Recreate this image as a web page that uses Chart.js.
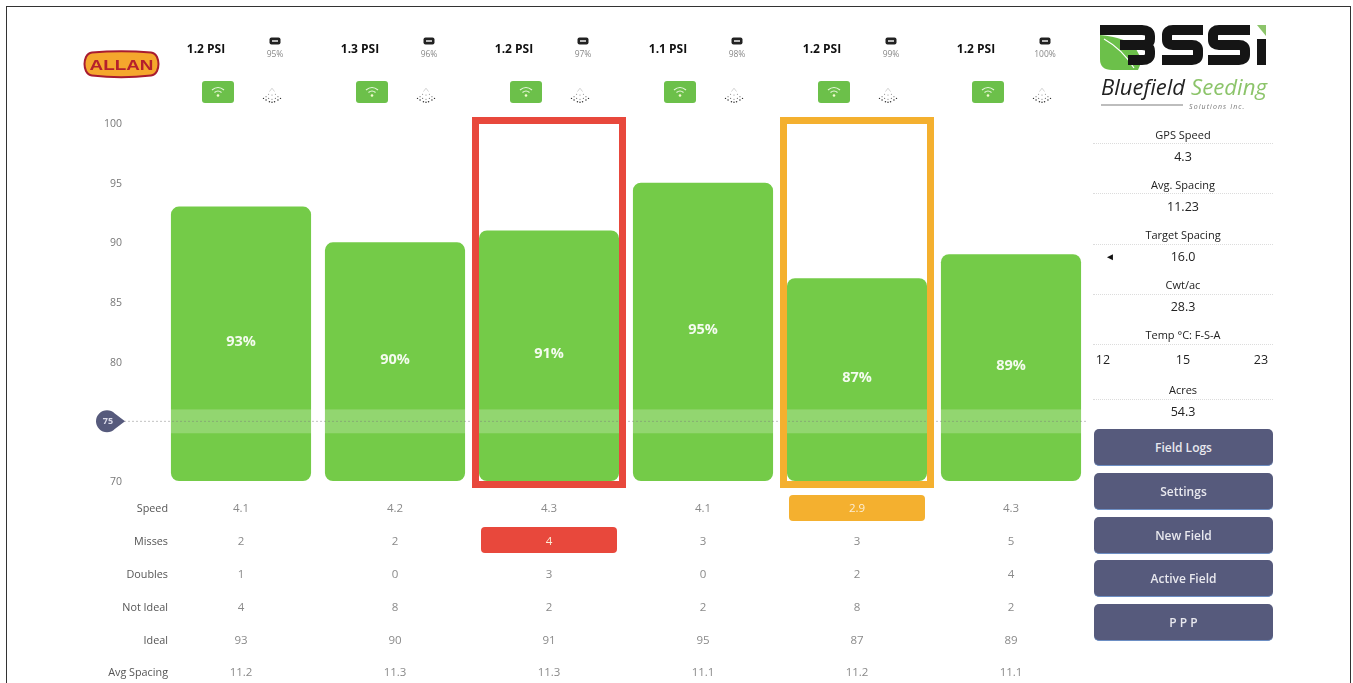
<!DOCTYPE html>
<html>
<head>
<meta charset="utf-8">
<script src="https://cdn.jsdelivr.net/npm/chart.js@4"></script>
<style>
  html, body { margin: 0; padding: 0; background: #fff; overflow: hidden; }
  body { width: 1353px; height: 683px; position: relative; font-family: "Open Sans", sans-serif; }
  #frame { position: absolute; left: 6px; top: 6px; width: 1345px; height: 677px; border: solid #333; border-width: 1px 1px 0 1px; box-sizing: border-box; pointer-events: none; }
  #chart { position: absolute; left: 0; top: 0; }
  .t { position: absolute; white-space: nowrap; transform: translate(-50%, -50%); }
  .rowlabel { position: absolute; white-space: nowrap; transform: translate(-100%, -50%); font-size: 10.8px; color: #555; }
  .cell { font-size: 11.5px; color: #8a8a8a; }
  .pill { position: absolute; height: 26px; width: 136px; border-radius: 4px; transform: translate(-50%, -50%); }
  .psi { font-size: 12px; font-weight: 700; color: #111; }
  .bat { font-size: 8.5px; color: #888; }
  .side { font-size: 11px; color: #222; }
  .sideval { font-size: 12.5px; color: #222; }
  .rule { position: absolute; left: 1093px; width: 180px; border-top: 1px dotted #dcdcdc; }
  .btn { position: absolute; left: 1094px; width: 179px; height: 37px; background: #565a7c; border-radius: 5px; color: #e8e8ee; font-size: 12px; font-weight: 600; line-height: 37px; text-align: center; border-bottom: 1px solid #6d8fc4; box-sizing: border-box; }
  .icon { position: absolute; transform: translate(-50%, -50%); }
  #allan { position: absolute; left: 82px; top: 50px; width: 79px; height: 29px; }
  #bssi { position: absolute; left: 1090px; top: 15px; width: 190px; height: 105px; }
</style>
</head>
<body>
<canvas id="chart" width="1090" height="683"></canvas>
<div id="frame"></div>

<svg id="allan" viewBox="0 0 79 29">
  <path d="M10 2.5 Q39 0 69 2.5 Q73 3 75 7 Q78 14 75 21 Q73 25 69 25.5 Q39 29 10 25.5 Q6 25 4 21 Q1 14 4 7 Q6 3 10 2.5 Z" fill="#f5a72d" stroke="#a81c30" stroke-width="2"/>
  <text x="39.5" y="20" text-anchor="middle" font-family="Liberation Sans" font-weight="700" font-size="15" fill="#b5202c" textLength="64" lengthAdjust="spacingAndGlyphs">ALLAN</text>
</svg>

<svg id="bssi" viewBox="0 0 190 105">
  <path d="M10 20 Q36 22 46 34 Q54 46 48 55 H22 Q10 55 10 44 Z" fill="#6cc04a"/>
  <path d="M14 24 Q32 34 44 53" fill="none" stroke="#fff" stroke-width="1.2"/>
  <g fill="none" stroke="#151515" stroke-width="10">
    <path d="M10 15 H52 Q60 15 60 21 V24 Q60 30 52 30 H30 M52 30 Q60 30 60 36 V39 Q60 45 52 45 H38"/>
    <path d="M113 15 H83 Q77 15 77 20 V25 Q77 30 83 30 H102 Q108 30 108 35 V40 Q108 45 102 45 H72"/>
    <path d="M160 15 H129 Q123 15 123 20 V25 Q123 30 129 30 H149 Q155 30 155 35 V40 Q155 45 149 45 H118"/>
  </g>
  <rect x="167" y="24" width="9" height="26" fill="#151515"/>
  <polygon points="167,10 176,10 176,21" fill="#8cc46a"/>
  <text x="11" y="80" font-family="Open Sans" font-style="italic" font-size="22" fill="#222" textLength="84" lengthAdjust="spacingAndGlyphs">Bluefield</text>
  <text x="101" y="80" font-family="Open Sans" font-style="italic" font-size="22" fill="#8cc46a" textLength="76" lengthAdjust="spacingAndGlyphs">Seeding</text>
  <line x1="11" y1="90" x2="93" y2="90" stroke="#444" stroke-width="0.7"/>
  <text x="99" y="94" font-family="Open Sans" font-style="italic" font-size="7" letter-spacing="1.1" fill="#777">Solutions Inc.</text>
</svg>

<script>
const categories = ["1", "2", "3", "4", "5", "6"];
const ideal = [93, 90, 91, 95, 87, 89];
const psi = ["1.2 PSI", "1.3 PSI", "1.2 PSI", "1.1 PSI", "1.2 PSI", "1.2 PSI"];
const battery = ["95%", "96%", "97%", "98%", "99%", "100%"];
const yTicks = [70, 80, 85, 90, 95, 100];
const targetLine = 75;
const targetBand = [74, 76];
const alertColumns = { 2: "#e8483c", 4: "#f4b02f" };

const rowNames = ["Speed", "Misses", "Doubles", "Not Ideal", "Ideal", "Avg Spacing"];
const speed = ["4.1", "4.2", "4.3", "4.1", "2.9", "4.3"];
const misses = ["2", "2", "4", "3", "3", "5"];
const doubles = ["1", "0", "3", "0", "2", "4"];
const notIdeal = ["4", "8", "2", "2", "8", "2"];
const idealRow = ["93", "90", "91", "95", "87", "89"];
const avgSpacing = ["11.2", "11.3", "11.3", "11.1", "11.2", "11.1"];
const rows = [speed, misses, doubles, notIdeal, idealRow, avgSpacing];

const sideLabels = ["GPS Speed", "Avg. Spacing", "Target Spacing", "Cwt/ac", "Temp °C: F-S-A", "Acres"];
const sideValues = ["4.3", "11.23", "16.0", "28.3", "15", "54.3"];
const tempEnds = ["12", "23"];
const buttons = ["Field Logs", "Settings", "New Field", "Active Field", "P P P"];

function add(cls, text, x, y, css) {
  const el = document.createElement("div");
  el.className = cls;
  el.textContent = text;
  el.style.left = x + "px";
  el.style.top = y + "px";
  if (css) el.style.cssText += css;
  document.body.appendChild(el);
  return el;
}

function addIcon(svg, x, y) {
  const el = add("icon", "", x, y);
  el.innerHTML = svg;
  el.style.lineHeight = "0";
}

const wifiSvg = '<svg width="32" height="22"><rect width="32" height="22" rx="3" fill="#6cc04a"/><g fill="none" stroke="#e6f5da" stroke-width="1.2"><path d="M10 9 Q16 4 22 9"/><path d="M12.5 11.5 Q16 8.5 19.5 11.5"/></g><circle cx="16" cy="14.5" r="1.3" fill="#f4fbd0"/></svg>';
const batterySvg = '<svg width="12" height="8"><rect x="0.5" y="0.5" width="11" height="7" rx="2" fill="#222"/><rect x="3" y="3" width="6" height="2" fill="#bbb"/></svg>';
const spraySvg = '<svg width="21" height="17" viewBox="0 0 24 20"><g fill="#333"><circle cx="2" cy="14" r=".8"/><circle cx="5" cy="16" r=".9"/><circle cx="9" cy="18" r=".9"/><circle cx="12" cy="18.5" r=".9"/><circle cx="15" cy="18" r=".9"/><circle cx="19" cy="16" r=".9"/><circle cx="22" cy="14" r=".8"/></g><g fill="#777"><circle cx="5" cy="12" r=".7"/><circle cx="8" cy="14" r=".7"/><circle cx="12" cy="15" r=".7"/><circle cx="16" cy="14" r=".7"/><circle cx="19" cy="12" r=".7"/><circle cx="8" cy="9" r=".6"/><circle cx="12" cy="10" r=".6"/><circle cx="16" cy="9" r=".6"/></g><path d="M9 6 L12 2 L15 6" fill="none" stroke="#ccc"/></svg>';

// band + dashed 75 line, alert outlines, % labels
const overlayPlugin = {
  id: "overlay",
  afterDatasetsDraw(chart) {
    const { ctx, scales: { x, y }, chartArea } = chart;
    ctx.save();
    ctx.fillStyle = "rgba(255,255,255,0.22)";
    ctx.fillRect(chartArea.left, y.getPixelForValue(targetBand[1]), chartArea.width, y.getPixelForValue(targetBand[0]) - y.getPixelForValue(targetBand[1]));

    ctx.strokeStyle = "rgba(120,120,120,0.45)";
    ctx.setLineDash([2, 2]);
    ctx.beginPath();
    ctx.moveTo(124, y.getPixelForValue(targetLine));
    ctx.lineTo(chartArea.right, y.getPixelForValue(targetLine));
    ctx.stroke();
    ctx.setLineDash([]);

    // highlighted columns
    for (const i in alertColumns) {
      const cx = x.getPixelForValue(+i);
      ctx.strokeStyle = alertColumns[i];
      ctx.lineWidth = 7;
      ctx.strokeRect(cx - 73.5, y.getPixelForValue(100) - 2.5, 147, y.getPixelForValue(70) - y.getPixelForValue(100) + 6);
    }

    ctx.fillStyle = "#f4fbef";
    ctx.font = "700 14.5px 'Open Sans'";
    ctx.textAlign = "center";
    ctx.textBaseline = "middle";
    ideal.forEach((v, i) => {
      ctx.fillText(v + "%", x.getPixelForValue(i), (y.getPixelForValue(v) + y.getPixelForValue(70)) / 2 - 2);
    });

    // 75 marker
    const my = y.getPixelForValue(targetLine);
    ctx.fillStyle = "#565a7c";
    ctx.beginPath();
    ctx.arc(107, my, 11, Math.PI * 0.25, Math.PI * 1.75);
    ctx.lineTo(125, my);
    ctx.closePath();
    ctx.fill();
    ctx.fillStyle = "#dcdcea";
    ctx.font = "700 9px 'Open Sans'";
    ctx.fillText(String(targetLine), 108, my);
    ctx.restore();
  }
};

const chart = new Chart(document.getElementById("chart"), {
  type: "bar",
  data: {
    labels: categories,
    datasets: [{
      data: ideal,
      base: 70,
      backgroundColor: "#74cb48",
      borderRadius: 8,
      borderSkipped: false,
      categoryPercentage: 1,
      barPercentage: 0.91,
    }],
  },
  options: {
    responsive: false,
    animation: false,
    layout: { padding: { left: 0, right: 2, top: 123, bottom: 202 } },
    plugins: { legend: { display: false }, tooltip: { enabled: false } },
    scales: {
      x: { display: false },
      y: {
        min: 70,
        max: 100,
        afterBuildTicks(axis) {
          axis.ticks = yTicks.map((value) => ({ value }));
        },
        afterFit(axis) { axis.width = 164; },
        grid: { display: false },
        border: { display: false },
        ticks: { color: "#777", font: { family: "Open Sans", size: 10.5 }, padding: 34, z: 1, textStrokeWidth: 0, labelOffset: 1 },
      },
    },
  },
  plugins: [overlayPlugin],
});

// everything around the plot lines up with the category scale
const xs = categories.map((c, i) => chart.scales.x.getPixelForValue(i));

xs.forEach((cx, i) => {
  add("t psi", psi[i], cx - 35, 47.5);
  addIcon(batterySvg, cx + 34, 41);
  add("t bat", battery[i], cx + 34, 53);
  addIcon(wifiSvg, cx - 23, 92);
  addIcon(spraySvg, cx + 31, 95);
});

add("pill", "", xs[4], 507.5, "background:#f4b02f");
add("pill", "", xs[2], 540, "background:#e8483c");

const rowY = [507, 539.5, 572.5, 605.5, 638.5, 671];
rowNames.forEach((name, r) => {
  add("rowlabel", name, 168, rowY[r]);
  rows[r].forEach((v, i) => {
    const onPill = (r === 0 && i === 4) || (r === 1 && i === 2);
    add("t cell", v, xs[i], rowY[r], onPill ? "color:#fbeed6" : "");
  });
});

const labelY = [134, 184, 234, 284, 334, 389];
const valueY = [156, 206, 256, 306, 359, 411];
const ruleY = [143, 193, 244, 294, 344, 399];
sideLabels.forEach((name, i) => {
  add("t side", name, 1183, labelY[i]);
  add("t sideval", sideValues[i], 1183, valueY[i]);
  add("rule", "", 1093, ruleY[i]);
});
add("t sideval", tempEnds[0], 1103, 359);
add("t sideval", tempEnds[1], 1261, 359);
add("t", "◄", 1110, 256, "font-size:10px;color:#111");

const buttonTop = [429, 473, 517, 560, 604];
buttons.forEach((b, i) => add("btn", b, 1094, buttonTop[i]));
</script>
</body>
</html>
